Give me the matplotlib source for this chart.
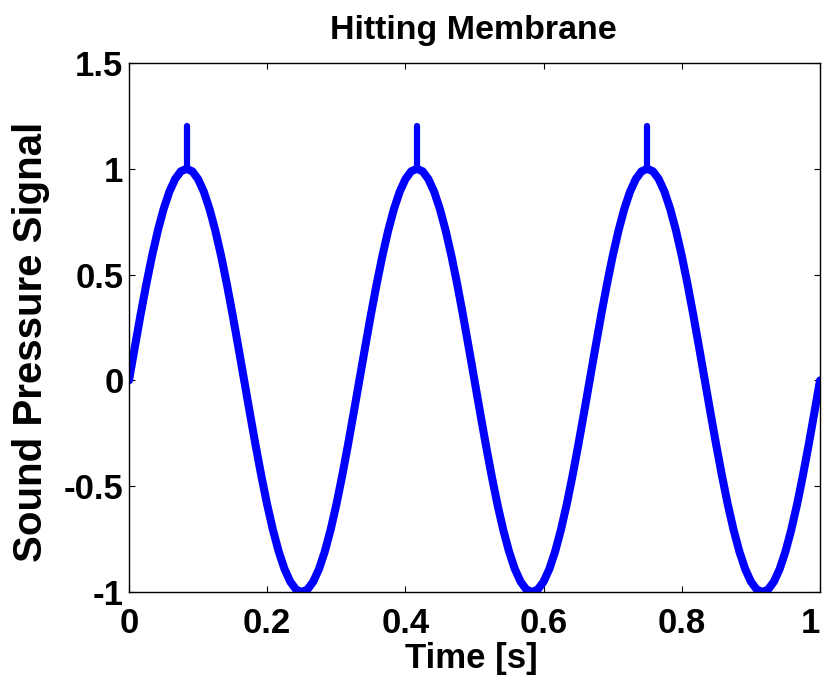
import numpy as np
import matplotlib
matplotlib.use("Agg")
import matplotlib.pyplot as plt

plt.rcParams['font.family'] = ['Liberation Sans', 'DejaVu Sans']
plt.rcParams['font.weight'] = 'bold'

# Signal samples (sample rate 120 Hz, 0..1 s)
half_wave = [0.0, 0.156, 0.309, 0.454, 0.588, 0.707, 0.809, 0.891, 0.951, 0.988,
             1.0, 0.988, 0.951, 0.891, 0.809, 0.707, 0.588, 0.454, 0.309, 0.156]
signal = (half_wave + [-v for v in half_wave]) * 3 + [0.0]
sample_rate = 120
time = np.arange(len(signal)) / sample_rate

# Hitting impulses on the peaks
spike_times = [0.0833, 0.4167, 0.75]
spike_base = [1.0, 1.0, 1.0]
spike_top = [1.2, 1.2, 1.2]

xticks = [0, 0.2, 0.4, 0.6, 0.8, 1]
xtick_labels = ["0", "0.2", "0.4", "0.6", "0.8", "1"]
yticks = [-1, -0.5, 0, 0.5, 1, 1.5]
ytick_labels = ["-1", "-0.5", "0", "0.5", "1", "1.5"]

fig = plt.figure(figsize=(8.23, 6.79), dpi=100)
ax = fig.add_axes([129/823, 1-592/679, (820-129)/823, (592-63)/679])

ax.plot(time, signal, color=(0, 0, 1), lw=5.8, solid_capstyle='round', solid_joinstyle='round')
ax.vlines(spike_times, spike_base, spike_top, color=(0, 0, 1), lw=4.5, capstyle='round')

ax.set_xlim(0, 1)
ax.set_ylim(-1, 1.5)
ax.set_xticks(xticks)
ax.set_xticklabels(xtick_labels)
ax.set_yticks(yticks)
ax.set_yticklabels(ytick_labels)
ax.tick_params(direction='in', length=4, width=0.8, top=True, right=True,
               labelsize=25)
ax.tick_params(axis='x', pad=11)
ax.tick_params(axis='y', pad=4)
for lab in ax.get_xticklabels() + ax.get_yticklabels():
    lab.set_fontweight('bold')
last = ax.get_xticklabels()[-1]
last.set_horizontalalignment('right')
for s in ax.spines.values():
    s.set_linewidth(1.0)

ax.set_title("Hitting Membrane", fontsize=24.5, fontweight='bold', x=0.499, pad=17)
ax.set_xlabel("Time [s]", fontsize=25, fontweight='bold', x=0.495, labelpad=1)
ax.set_ylabel("Sound Pressure Signal", fontsize=29, fontweight='bold', labelpad=10, y=0.4735)

fig.savefig("out.png", dpi=100)
